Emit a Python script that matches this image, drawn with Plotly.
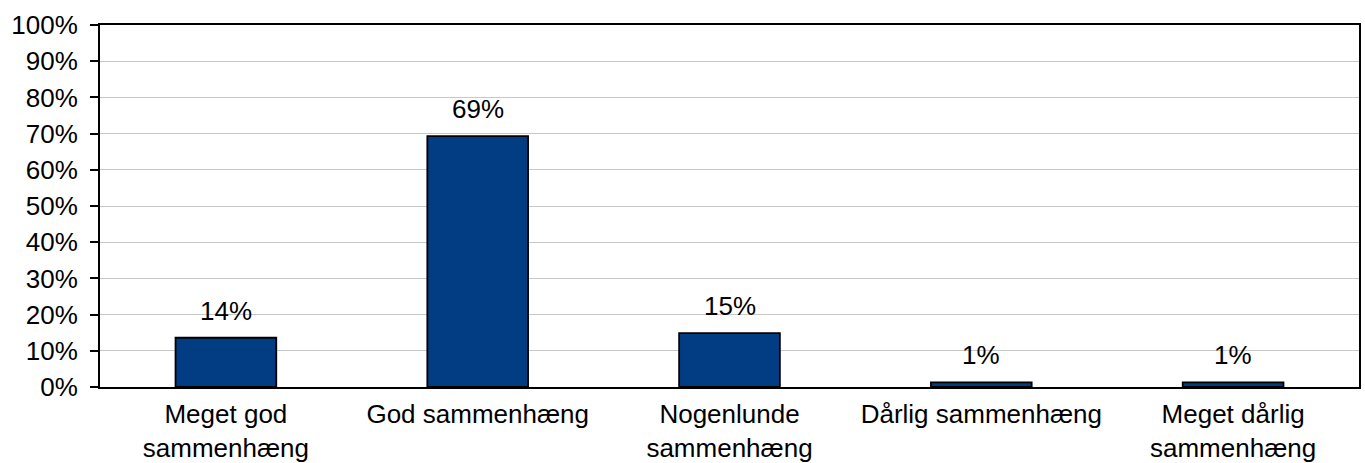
import plotly.graph_objects as go

categories = ["Meget god<br>sammenhæng", "God sammenhæng", "Nogenlunde<br>sammenhæng",
              "Dårlig sammenhæng", "Meget dårlig<br>sammenhæng"]
values = [13.6, 69.3, 14.9, 1.3, 1.3]
labels = ["14%", "69%", "15%", "1%", "1%"]
y_ticks = [0, 10, 20, 30, 40, 50, 60, 70, 80, 90, 100]

FONT = "Liberation Sans, Arial, sans-serif"
FS = 26

fig = go.Figure()
fig.add_trace(go.Bar(
    x=categories, y=values, width=0.4,
    marker=dict(color="#023D84", line=dict(color="#000000", width=1.8)),
    hoverinfo="skip",
))
for c, v, t in zip(categories, values, labels):
    fig.add_annotation(x=c, y=v, text=t, showarrow=False, yanchor="bottom",
                       yshift=10, font=dict(family=FONT, size=FS, color="#000000"))

fig.update_layout(
    width=1365, height=463,
    margin=dict(l=100, r=6, t=25, b=76),
    paper_bgcolor="white", plot_bgcolor="white",
    showlegend=False,
    font=dict(family=FONT, size=FS, color="#000000"),
    bargap=0.6,
)
fig.update_xaxes(
    showline=True, linecolor="#000000", linewidth=2, mirror=True,
    ticks="", showgrid=False, ticklabelstandoff=3, automargin=False,
    tickfont=dict(family=FONT, size=FS, color="#000000"),
)
fig.update_yaxes(
    range=[0, 100], tickvals=y_ticks, ticktext=[f"{v}%" for v in y_ticks],
    showline=True, linecolor="#000000", linewidth=2, mirror=True,
    ticks="outside", ticklen=8, tickcolor="#000000", tickwidth=1.5,
    ticklabelstandoff=7,
    showgrid=True, gridcolor="#C8C8C8", gridwidth=1, automargin=False,
    tickfont=dict(family=FONT, size=FS, color="#000000"),
    zeroline=False,
)

fig.write_html(
    "out.html",
    config={"displayModeBar": False},
    post_script="document.body.style.margin='0px';document.body.style.overflow='hidden';",
)
